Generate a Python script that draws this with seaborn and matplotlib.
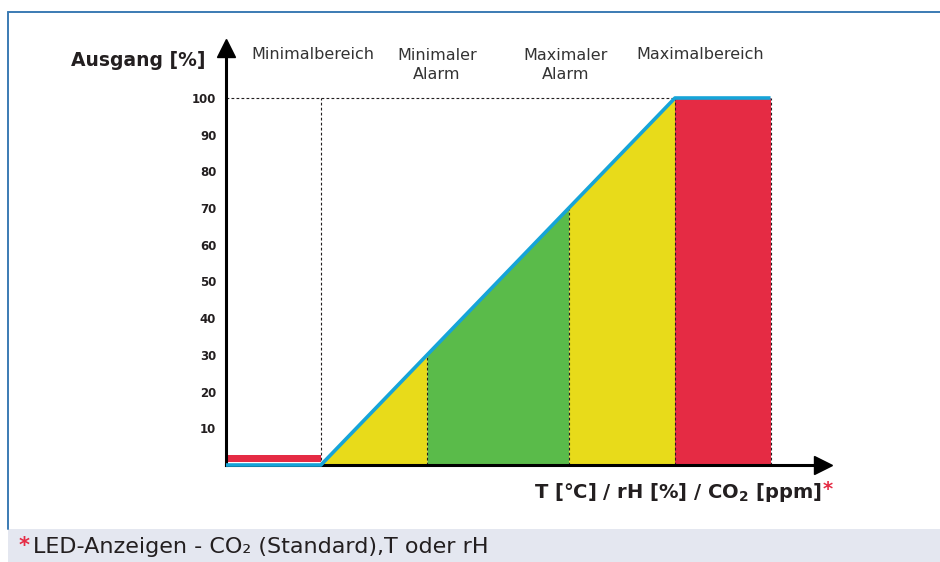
import numpy as np
import matplotlib
matplotlib.use('Agg')
import matplotlib.pyplot as plt
import seaborn as sns
from matplotlib.patches import Rectangle
from matplotlib.lines import Line2D

sns.set_style('white')
plt.rcParams['font.family'] = ['DejaVu Sans']

# x in percent of the sensor range, y = output in percent
curve_x = [-26.8, 0, 100, 127]
curve_y = [0, 0, 100, 100]
alarm_min = 30
alarm_max = 70
range_end = 127
low_bar = (0.9, 2.6)
yticks = [10, 20, 30, 40, 50, 60, 70, 80, 90, 100]
zone_labels = ['Minimalbereich', 'Minimaler\nAlarm', 'Maximaler\nAlarm', 'Maximalbereich']
zone_label_x = [-2.3, 32.8, 69, 107]

yellow = '#E8DB1A'
green = '#5ABB4A'
red = '#E52B44'
blue = '#16A4D8'
dark = '#231F20'

fig = plt.figure(figsize=(9.4, 5.62), dpi=100)

# outer frame and footer band
fig.add_artist(Line2D([8/940, 8/940], [(562-529)/562, (562-12)/562], color='#3B7BB3', lw=1.4))
fig.add_artist(Line2D([8/940, 1], [(562-12)/562, (562-12)/562], color='#3B7BB3', lw=1.4))
fig.add_artist(Rectangle((8/940, 0), 1, (562-529)/562, color='#E4E7F0', lw=0))
fig.text(19/940, (562-546)/562, '*', color=red, fontsize=15, fontweight='bold', va='center')
fig.text(33/940, (562-547)/562, 'LED-Anzeigen - CO\u2082 (Standard),T oder rH', color=dark,
         fontsize=16, va='center')

ax = fig.add_axes([226/940, (562-465)/562, (831-226)/940, (465-40)/562])
xmin = curve_x[0]
ax.set_xlim(xmin, (831-321)/3.54)
ax.set_ylim(0, (465-40)/3.67)

x = np.array(curve_x)
y = np.array(curve_y)
xs = np.linspace(0, 100, 201)
ys = np.interp(xs, x, y)
ax.fill_between(xs, 0, ys, where=(xs <= alarm_min), color=yellow, lw=0)
ax.fill_between(xs, 0, ys, where=(xs >= alarm_min) & (xs <= alarm_max), color=green, lw=0)
ax.fill_between(xs, 0, ys, where=(xs >= alarm_max), color=yellow, lw=0)
ax.fill_between([100, range_end], 0, 100, color=red, lw=0)
ax.fill_between([xmin, 0], low_bar[0], low_bar[1], color=red, lw=0)

# dotted guides
ax.plot([xmin, 100], [100, 100], color=dark, lw=0.8, ls=(0, (2.5, 2)))
for gx in [0, alarm_min, alarm_max, 100, range_end]:
    gy = 100 if gx in (0, 100, range_end) else np.interp(gx, x, y)
    ax.plot([gx, gx], [0, gy], color=dark, lw=0.8, ls=(0, (2.5, 2)))

# axes with arrows
for s in ['top', 'right']:
    ax.spines[s].set_visible(False)
for s in ['left', 'bottom']:
    ax.spines[s].set_linewidth(2.2)
    ax.spines[s].set_color('black')
ax.spines['left'].set_bounds(0, (465-52)/3.67)
ax.spines['bottom'].set_bounds(xmin, (822-321)/3.54)
ax.plot([0], [(465-48)/425], marker='^', ms=13, color='black',
        transform=ax.transAxes, clip_on=False)
ax.plot([(823-226)/605], [0], marker='>', ms=13, color='black',
        transform=ax.transAxes, clip_on=False)

sns.lineplot(x=curve_x, y=curve_y, ax=ax, color=blue, lw=2.6, sort=False,
             solid_capstyle='butt', zorder=4, clip_on=False)

ax.set_xticks([])
ax.set_yticks(yticks)
ax.set_yticklabels([str(t) for t in yticks], fontsize=8.5, fontweight='bold', color=dark)
ax.tick_params(axis='y', length=0, pad=7)

ax.text(-51.7, 110.3, 'Ausgang [%]', ha='center', va='center', fontsize=13.5,
        fontweight='bold', color=dark, clip_on=False)
for lbl, lx in zip(zone_labels, zone_label_x):
    ly = 111.8 if '\n' not in lbl else 108.9
    ax.text(lx, ly, lbl, ha='center', va='center', fontsize=11.5, color='#333333',
            linespacing=1.35, clip_on=False)

ax.text((822-321)/3.54, -(492-465)/3.67, r'T [°C] / rH [%] / CO$_\mathbf{2}$ [ppm]',
        ha='right', va='center', fontsize=14, fontweight='bold', color=dark, clip_on=False)
ax.text((823-321)/3.54, -(489-465)/3.67, '*', ha='left', va='center', fontsize=14,
        fontweight='bold', color=red, clip_on=False)

fig.savefig('out.png', dpi=100)
